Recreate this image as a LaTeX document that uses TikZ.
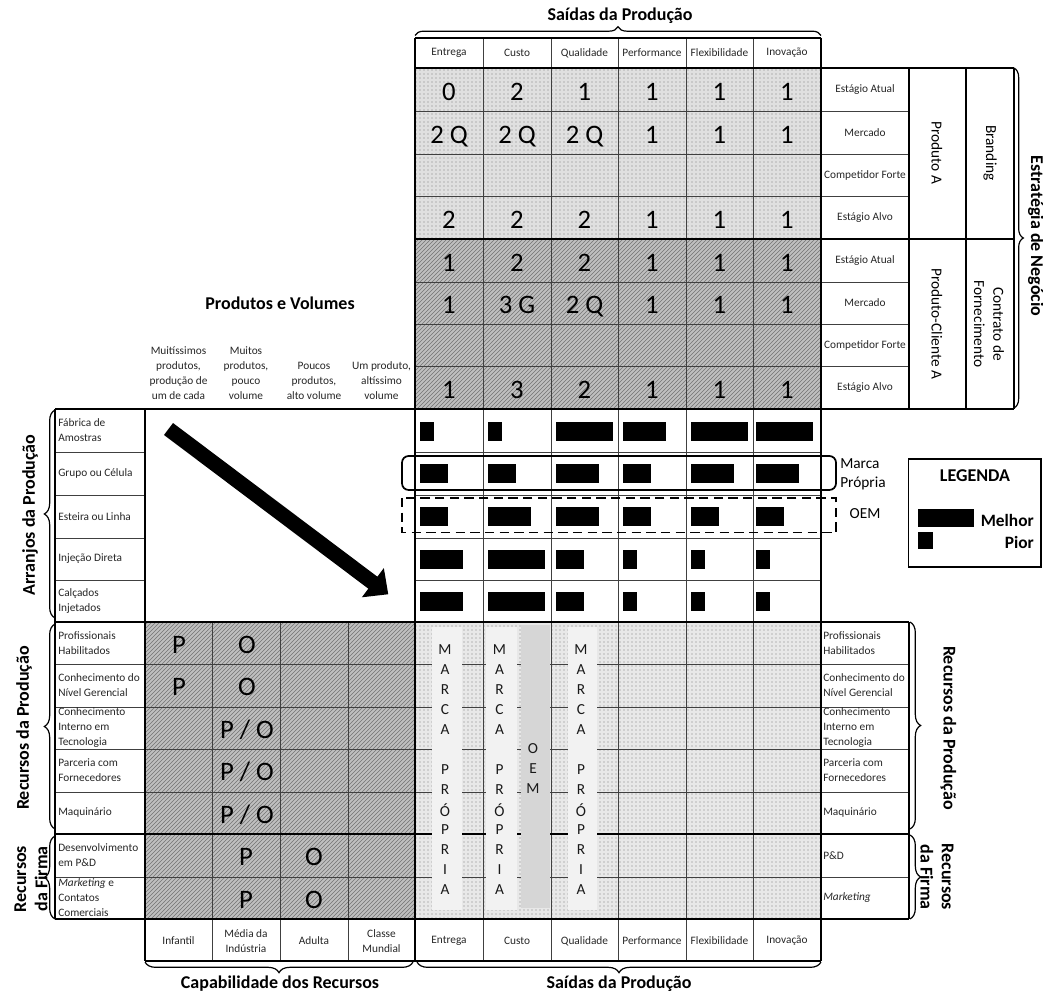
\documentclass[tikz,border=0pt]{standalone}
\usepackage{fontspec}
\setmainfont{Carlito}
\usetikzlibrary{patterns,decorations.pathreplacing,arrows.meta}
\begin{document}
\begin{tikzpicture}[x=0.75pt,y=-0.75pt,
  lab/.style={font=\fontsize{8.5}{11.25}\selectfont, inner sep=0pt, text=black!85},
  big/.style={font=\fontsize{20}{24}\selectfont, inner sep=0pt, anchor=base},
  ttl/.style={font=\fontsize{13.5}{16}\selectfont\bfseries, inner sep=0pt},
  mid/.style={font=\fontsize{11.5}{14.5}\selectfont, inner sep=0pt},
  strl/.style={font=\fontsize{11.5}{12}\selectfont, inner sep=0pt, text=black!90},
  gline/.style={line width=0.6pt, draw=black!75},
  bline/.style={line width=1.1pt, draw=black},
  brc/.style={decorate, decoration={brace, amplitude=#1}, line width=0.9pt},
  barf/.style={fill=black},
  lightstrip/.style={fill=black!5},
  darkstrip/.style={fill=black!16}]
\useasboundingbox (0,0) rectangle (1043,994);

% ---------- fills ----------
\fill[black!12] (415,68) rectangle (821,239);
\fill[pattern=dots, pattern color=black!50] (415,68) rectangle (821,239);
\fill[black!25] (415,239) rectangle (821,409);
\fill[pattern=north east lines, pattern color=black!55] (415,239) rectangle (821,409);
\fill[black!25] (145,622) rectangle (415,919);
\fill[pattern=north east lines, pattern color=black!55] (145,622) rectangle (415,919);
\fill[black!9] (415,622) rectangle (821,919);
\fill[pattern=dots, pattern color=black!50] (415,622) rectangle (821,919);

% ---------- grid ----------
\foreach \x in {483,551,618,686,753} \draw[gline] (\x,38) -- (\x,961);
\foreach \x in {212,280,348} \draw[gline] (\x,622) -- (\x,961);
\foreach \y in {111,154,196.5,282,324,366.5} \draw[gline] (415,\y) -- (909,\y);
\foreach \y in {452,495,538,580} {
  \draw[gline] (55,\y) -- (145,\y);
  \draw[gline] (415,\y) -- (821,\y);
}
\foreach \y in {664,707,749,792,877} \draw[gline] (55,\y) -- (909,\y);
\draw[bline] (415,38) -- (821,38);
\draw[bline] (415,68) -- (1014,68);
\draw[bline] (415,239) -- (1014,239);
\draw[bline] (55,409) -- (1014,409);
\draw[bline] (55,622) -- (909,622);
\draw[bline] (55,834) -- (909,834);
\draw[bline] (55,919) -- (909,919);
\draw[bline] (145,961) -- (821,961);
\draw[bline] (415,38) -- (415,961);
\draw[bline] (821,38) -- (821,961);
\draw[bline] (145,409) -- (145,961);
\draw[bline] (55,409) -- (55,919);
\draw[bline] (909,68) -- (909,409);
\draw[bline] (909,622) -- (909,919);
\draw[bline] (966,68) -- (966,409);
\draw[bline] (1014,68) -- (1014,409);

% ---------- header labels ----------
\foreach \x/\t [count=\i] in {449/Entrega,517/Custo,584.5/Qualidade,652/Performance,719.5/Flexibilidade,787/Inovação} {
  \node[lab] (ht\i) at (\x,53) {\t};
  \node[lab] (hb\i) at (\x,941) {\t};
}
\node[lab] (cb1) at (178.5,941) {Infantil};
\node[lab, align=center] (cb2) at (246,941) {Média da\\Indústria};
\node[lab] (cb3) at (314,941) {Adulta};
\node[lab, align=center] (cb4) at (381.5,941) {Classe\\Mundial};

\node[lab, align=center, anchor=south] (pv1) at (178.5,400) {Muitíssimos\\produtos,\\produção de\\um de cada};
\node[lab, align=center, anchor=south] (pv2) at (246,400) {Muitos\\produtos,\\pouco\\volume};
\node[lab, align=center, anchor=south] (pv3) at (314,400) {Poucos\\produtos,\\alto volume};
\node[lab, align=center, anchor=south] (pv4) at (381.5,400) {Um produto,\\altíssimo\\volume};

% ---------- right row labels (top) ----------
\foreach \y/\t [count=\i] in {89.5/Estágio Atual,132.5/Mercado,175/Competidor Forte,217.7/Estágio Alvo,260.5/Estágio Atual,303/Mercado,345/Competidor Forte,388/Estágio Alvo}
  \node[lab] (rl\i) at (865,\y) {\t};

\node[mid, rotate=-90] (pa) at (937,153) {Produto A};
\node[mid, rotate=-90] (brd) at (990,153) {Branding};
\node[mid, rotate=-90] (pca) at (937,324) {Produto-Cliente A};
\node[mid, rotate=-90, align=center] (cfo) at (989,324) {Contrato de\\Fornecimento};

% ---------- big numbers ----------
\foreach \y/\a/\b/\c/\d/\e/\f [count=\i] in {100.5/0/2/1/1/1/1, 143.5/2 Q/2 Q/2 Q/1/1/1, 228.5/2/2/2/1/1/1, 271.5/1/2/2/1/1/1, 314/1/3 G/2 Q/1/1/1, 399/1/3/2/1/1/1} {
  \node[big] (n\i a) at (449,\y) {\a};
  \node[big] (n\i b) at (517,\y) {\b};
  \node[big] (n\i c) at (584.5,\y) {\c};
  \node[big] (n\i d) at (652,\y) {\d};
  \node[big] (n\i e) at (719.5,\y) {\e};
  \node[big] (n\i f) at (787,\y) {\f};
}

% ---------- left row labels ----------
\foreach \y/\t [count=\i] in {430.5/{Fábrica de\\Amostras},473.5/{Grupo ou Célula},516.5/{Esteira ou Linha},559/{Injeção Direta},601/{Calçados\\Injetados},643/{Profissionais\\Habilitados},685.5/{Conhecimento do\\Nível Gerencial},728/{Conhecimento\\Interno em\\Tecnologia},770.5/{Parceria com\\Fornecedores},813/{Maquinário},855.5/{Desenvolvimento\\em P\&D},898/{\textit{Marketing} e\\Contatos\\Comerciais}}
  \node[lab, align=left, anchor=west] (ll\i) at (58,\y) {\t};

\foreach \y/\t [count=\i] in {643/{Profissionais\\Habilitados},685.5/{Conhecimento do\\Nível Gerencial},728/{Conhecimento\\Interno em\\Tecnologia},770.5/{Parceria com\\Fornecedores},813/{Maquinário},855.5/{P\&D},898/{\textit{Marketing}}}
  \node[lab, align=left, anchor=west] (rr\i) at (823,\y) {\t};

% ---------- P / O letters ----------
\node[big] (po1) at (179,653) {P};
\node[big] (po2) at (247,653) {O};
\node[big] (po3) at (179,695.5) {P};
\node[big] (po4) at (247,695.5) {O};
\node[big] (po5) at (247,738) {P / O};
\node[big] (po6) at (247,780.5) {P / O};
\node[big] (po7) at (247,823) {P / O};
\node[big] (po8) at (246,865.5) {P};
\node[big] (po9) at (314,865.5) {O};
\node[big] (po10) at (246,908) {P};
\node[big] (po11) at (314,908) {O};

% ---------- bars ----------
\foreach \y/\a/\b/\c/\d/\e/\f in {431.5/1/1/4/3/4/4, 474/2/2/3/2/3/3, 517/2/3/3/2/2/2, 559.5/3/4/2/1/1/1, 602/3/4/2/1/1/1} {
  \fill[barf] (420,\y-9.5) rectangle ++(14.2*\a,19);
  \fill[barf] (488,\y-9.5) rectangle ++(14.2*\b,19);
  \fill[barf] (556,\y-9.5) rectangle ++(14.2*\c,19);
  \fill[barf] (623,\y-9.5) rectangle ++(14.2*\d,19);
  \fill[barf] (691,\y-9.5) rectangle ++(14.2*\e,19);
  \fill[barf] (756,\y-9.5) rectangle ++(14.2*\f,19);
}

% ---------- Marca Propria / OEM frames ----------
\draw[line width=1.3pt, rounded corners=5pt] (402,456) rectangle (836,490);
\draw[line width=1.2pt, dash pattern=on 7pt off 4pt] (402,498) rectangle (836,532.5);
\node[mid, align=left, anchor=west] (mp) at (840,474) {Marca\\Própria};
\node[mid] (oem) at (865,514) {OEM};

% ---------- legend ----------
\draw[line width=1.1pt] (908.5,459) rectangle (1041,567);
\node[font=\fontsize{13.5}{14}\selectfont\bfseries, inner sep=0pt] (leg) at (975,476) {LEGENDA};
\fill[barf] (918,509.5) rectangle (973.5,527);
\fill[barf] (918,532) rectangle (933,549);
\node[font=\fontsize{13}{14}\selectfont\bfseries, inner sep=0pt, anchor=east] (mel) at (1034,520) {Melhor};
\node[font=\fontsize{13}{14}\selectfont\bfseries, inner sep=0pt, anchor=east] (pio) at (1034,542) {Pior};

% ---------- strips ----------
\fill[lightstrip] (431.5,627) rectangle (461.5,910);
\fill[lightstrip] (486,627) rectangle (517,910);
\fill[darkstrip] (520.5,625) rectangle (549.5,908);
\fill[lightstrip] (568,627) rectangle (597,910);
\foreach \ch/\yy [count=\k] in {M/650,A/670,R/690,C/710,A/730,P/770,R/790,Ó/810,P/830,R/850,I/870,A/890} {
  \node[strl] (sa\k) at (445,\yy) {\ch};
  \node[strl] (sb\k) at (499.5,\yy) {\ch};
  \node[strl] (sc\k) at (581,\yy) {\ch};
}
\node[strl] (so1) at (533,748.5) {O};
\node[strl] (so2) at (533,768.5) {E};
\node[strl] (so3) at (533,788.5) {M};

% ---------- arrow ----------
\coordinate (aS) at (168.5,429);
\coordinate (aE) at (388.3,594.3);
\draw[line width=11.25pt, -{Triangle[length=14.5pt,width=26.5pt]}] (aS) -- (aE);

% ---------- braces ----------
\draw[brc=6.5pt] (415,35.5) -- (821,35.5);
\draw[brc=8pt] (413,962) -- (145,962);
\draw[brc=8pt] (821,962) -- (417,962);
\draw[brc=8pt] (55,618) -- (55,410);
\draw[brc=8pt] (55,829) -- (55,624);
\draw[brc=8pt] (55,919) -- (55,836);
\draw[brc=8pt] (910,622) -- (910,829);
\draw[brc=8pt] (910,835) -- (910,919);
\draw[brc=7pt] (1014,68) -- (1014,408);

% ---------- titles ----------
\node[ttl] (t1) at (620,16) {Saídas da Produção};
\node[ttl] (t2) at (280,303) {Produtos e Volumes};
\node[ttl] (t3) at (280,984) {Capabilidade dos Recursos};
\node[ttl] (t4) at (619,984) {Saídas da Produção};
\node[ttl, rotate=90] (t5) at (30,515) {Arranjos da Produção};
\node[ttl, rotate=90] (t6) at (24,728) {Recursos da Produção};
\node[ttl, rotate=90, align=center] (t7) at (31,879) {Recursos\\da Firma};
\node[ttl, rotate=-90] (t8) at (948.5,728) {Recursos da Produção};
\node[ttl, rotate=-90, align=center] (t9) at (937,877) {Recursos\\da Firma};
\node[ttl, rotate=-90] (t10) at (1036,236) {Estratégia de Negócio};
\end{tikzpicture}
\end{document}
